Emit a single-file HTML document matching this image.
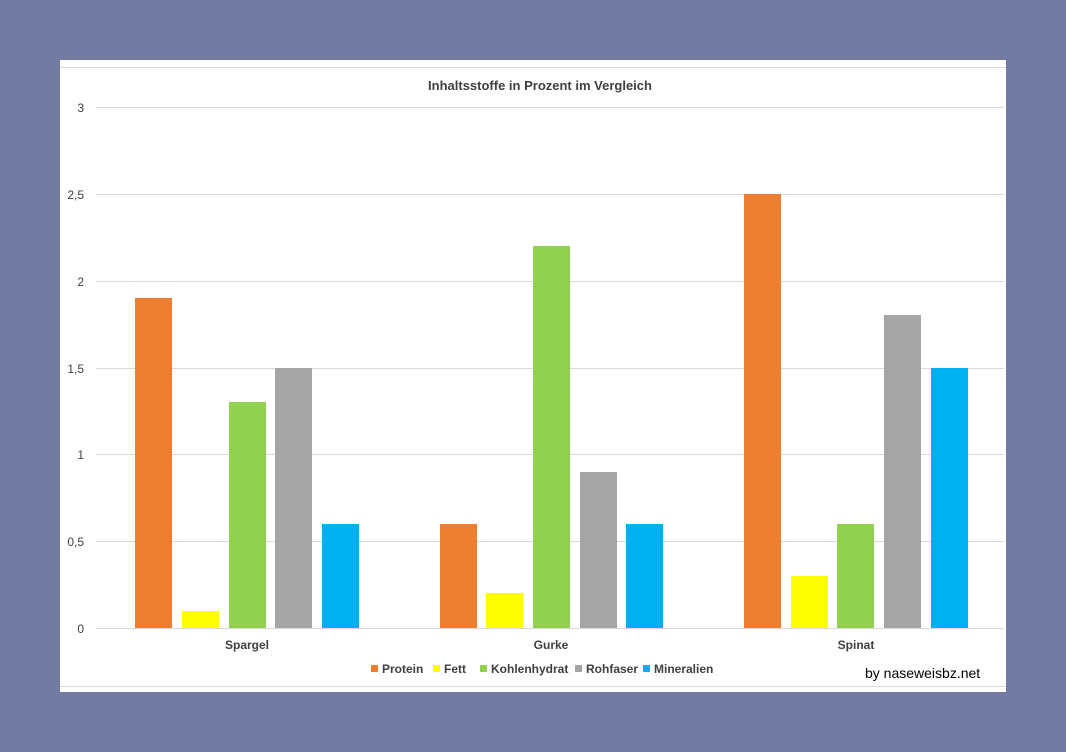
<!DOCTYPE html>
<html><head><meta charset="utf-8"><style>
body{margin:0;background:#737ba3;width:1066px;height:752px;overflow:hidden}
svg{position:absolute;left:0;top:0}
text{font-family:"Liberation Sans",sans-serif;fill:#404040}
</style></head><body>
<svg width="1066" height="752" xmlns="http://www.w3.org/2000/svg">
<rect x="60" y="60" width="946" height="632" fill="#fff"/>
<line x1="60" y1="67.5" x2="1006" y2="67.5" stroke="#d9d9d9"/>
<line x1="60" y1="686.5" x2="1006" y2="686.5" stroke="#d9d9d9"/>
<text x="540" y="90" font-size="13" font-weight="bold" text-anchor="middle">Inhaltsstoffe in Prozent im Vergleich</text>
<g stroke="#d9d9d9">
<line x1="96" y1="107.5" x2="1004" y2="107.5"/>
<line x1="96" y1="194.5" x2="1004" y2="194.5"/>
<line x1="96" y1="281.5" x2="1004" y2="281.5"/>
<line x1="96" y1="368.5" x2="1004" y2="368.5"/>
<line x1="96" y1="454.5" x2="1004" y2="454.5"/>
<line x1="96" y1="541.5" x2="1004" y2="541.5"/>
<line x1="96" y1="628.5" x2="1004" y2="628.5"/>
</g>
<g font-size="12" text-anchor="end">
<text x="84" y="112">3</text><text x="84" y="199">2,5</text><text x="84" y="286">2</text>
<text x="84" y="373">1,5</text><text x="84" y="459">1</text><text x="84" y="546">0,5</text><text x="84" y="633">0</text>
</g>
<g>
<rect x="135" y="298" width="37" height="330" fill="#ed7d31"/>
<rect x="182" y="611" width="37" height="17" fill="#ffff00"/>
<rect x="229" y="402" width="37" height="226" fill="#92d050"/>
<rect x="275" y="368" width="37" height="260" fill="#a5a5a5"/>
<rect x="322" y="524" width="37" height="104" fill="#00b0f0"/>
<rect x="440" y="524" width="37" height="104" fill="#ed7d31"/>
<rect x="486" y="593" width="37" height="35" fill="#ffff00"/>
<rect x="533" y="246" width="37" height="382" fill="#92d050"/>
<rect x="580" y="472" width="37" height="156" fill="#a5a5a5"/>
<rect x="626" y="524" width="37" height="104" fill="#00b0f0"/>
<rect x="744" y="194" width="37" height="434" fill="#ed7d31"/>
<rect x="791" y="576" width="37" height="52" fill="#ffff00"/>
<rect x="837" y="524" width="37" height="104" fill="#92d050"/>
<rect x="884" y="315" width="37" height="313" fill="#a5a5a5"/>
<rect x="931" y="368" width="37" height="260" fill="#00b0f0"/>
</g>
<g font-size="12" font-weight="bold" text-anchor="middle">
<text x="247" y="649">Spargel</text><text x="551" y="649">Gurke</text><text x="856" y="649">Spinat</text>
</g>
<g font-size="12" font-weight="bold">
<rect x="371" y="665" width="7" height="7" fill="#ed7d31"/><text x="382" y="673">Protein</text>
<rect x="433" y="665" width="7" height="7" fill="#ffff00"/><text x="444" y="673">Fett</text>
<rect x="480" y="665" width="7" height="7" fill="#92d050"/><text x="491" y="673">Kohlenhydrat</text>
<rect x="575" y="665" width="7" height="7" fill="#a5a5a5"/><text x="586" y="673">Rohfaser</text>
<rect x="643" y="665" width="7" height="7" fill="#00b0f0"/><text x="654" y="673">Mineralien</text>
</g>
<text x="865" y="678" font-size="14" style="fill:#000">by naseweisbz.net</text>
</svg>
</body></html>
